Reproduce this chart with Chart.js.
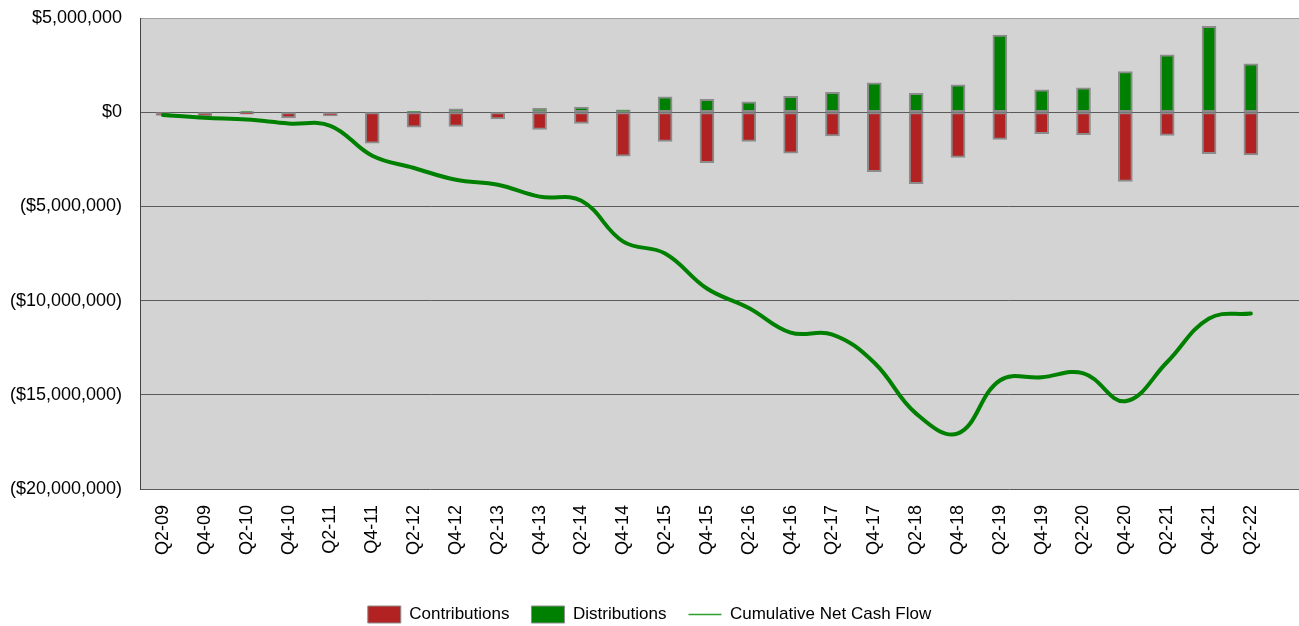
<!DOCTYPE html>
<html lang="en">
<head>
  <meta charset="UTF-8">
  <title>Cash Flow</title>
  <script src="https://cdn.jsdelivr.net/npm/chart.js"></script>
  <style>
    html, body { margin: 0; padding: 0; background: #fff; }
    #wrap { width: 1299px; height: 626px; position: relative; }
  </style>
</head>
<body>
  <div id="wrap"><canvas id="cashChart"></canvas></div>

  <script>
    const quarters = ['Q2-09', 'Q4-09', 'Q2-10', 'Q4-10', 'Q2-11', 'Q4-11', 'Q2-12', 'Q4-12', 'Q2-13',
      'Q4-13', 'Q2-14', 'Q4-14', 'Q2-15', 'Q4-15', 'Q2-16', 'Q4-16', 'Q2-17', 'Q4-17', 'Q2-18',
      'Q4-18', 'Q2-19', 'Q4-19', 'Q2-20', 'Q4-20', 'Q2-21', 'Q4-21', 'Q2-22'];
    const contributions = [-170000, -230000, -100000, -300000, -200000, -1650000, -800000, -760000, -360000,
      -920000, -600000, -2340000, -1550000, -2680000, -1550000, -2170000, -1260000, -3160000, -3800000,
      -2400000, -1440000, -1140000, -1190000, -3680000, -1230000, -2200000, -2270000];
    const distributions = [0, 0, 30000, 0, 0, 0, 50000, 180000, 0,
      200000, 270000, 120000, 820000, 680000, 550000, 840000, 1050000, 1560000, 1000000,
      1450000, 4100000, 1190000, 1300000, 2150000, 3050000, 4560000, 2570000];
    const cumulative = [-150000, -300000, -390000, -600000, -720000, -2310000, -2960000, -3590000, -3850000,
      -4480000, -4700000, -6870000, -7500000, -9360000, -10390000, -11700000, -11800000, -13300000, -16000000,
      -17050000, -14240000, -14070000, -13860000, -15340000, -13260000, -10950000, -10680000];

    const font = 'Liberation Sans, Arial, sans-serif';

    function money(v) {
      const s = '$' + Math.abs(v).toLocaleString('en-US');
      return v < 0 ? '(' + s + ')' : s;
    }

    const plotBg = {
      id: 'plotBg',
      beforeDraw(chart) {
        const a = chart.chartArea;
        const ctx = chart.ctx;
        ctx.save();
        ctx.fillStyle = '#d3d3d3';
        ctx.fillRect(a.left, a.top, a.right - a.left, a.bottom - a.top);
        ctx.restore();
      }
    };

    const pts = arr => arr.map((v, i) => ({ x: i, y: v }));

    const ctx = document.getElementById('cashChart').getContext('2d');
    const cashChart = new Chart(ctx, {
      type: 'bar',
      data: {
        datasets: [{
          label: 'Contributions',
          data: pts(contributions),
          backgroundColor: '#b22222',
          borderColor: '#8c8c8c',
          borderWidth: 2,
          borderSkipped: false,
          barThickness: 14,
          stack: 'flows',
          order: 2,
          pointStyle: 'rect'
        }, {
          label: 'Distributions',
          data: pts(distributions),
          backgroundColor: '#008000',
          borderColor: '#8c8c8c',
          borderWidth: 2,
          borderSkipped: false,
          barThickness: 14,
          stack: 'flows',
          order: 2,
          pointStyle: 'rect'
        }, {
          type: 'line',
          label: 'Cumulative Net Cash Flow',
          data: pts(cumulative),
          borderColor: '#008000',
          backgroundColor: '#008000',
          borderWidth: 4,
          borderCapStyle: 'round',
          tension: 0.4,
          pointRadius: 0,
          stack: 'cum',
          order: 1,
          pointStyle: 'line'
        }]
      },
      options: {
        responsive: true,
        maintainAspectRatio: false,
        animation: false,
        layout: { padding: { top: 18, right: 0, left: 0, bottom: -7 } },
        scales: {
          x: {
            type: 'linear',
            offset: false,
            min: -0.55,
            max: 27.15,
            grid: { display: false, drawTicks: false, offset: false },
            border: { display: false },
            afterBuildTicks: axis => { axis.ticks = quarters.map((q, i) => ({ value: i })); },
            afterFit: axis => { axis.height = 95; },
            ticks: {
              autoSkip: false,
              minRotation: 90,
              maxRotation: 90,
              padding: 16,
              color: '#000',
              font: { family: font, size: 18 },
              callback: v => quarters[v] ?? ''
            }
          },
          y: {
            stacked: true,
            min: -20000000,
            max: 5000000,
            afterFit: axis => {
              axis.width = 140;
              axis.paddingTop = 0;
              axis.paddingBottom = 0;
            },
            grid: {
              color: c => c.tick && c.tick.value === 5000000 ? '#a0a0a0' : '#5a5a5a',
              lineWidth: 1,
              drawTicks: false
            },
            border: { display: true, color: '#444', width: 1 },
            ticks: {
              stepSize: 5000000,
              padding: 18,
              color: '#000',
              font: { family: font, size: 18 },
              callback: v => money(v)
            }
          }
        },
        plugins: {
          tooltip: { enabled: false },
          legend: {
            display: true,
            position: 'bottom',
            labels: {
              usePointStyle: true,
              pointStyleWidth: 33,
              boxHeight: 19,
              padding: 22,
              color: '#000',
              font: { family: font, size: 17 },
              sort: (a, b) => a.datasetIndex - b.datasetIndex,
              generateLabels: chart => Chart.defaults.plugins.legend.labels.generateLabels(chart).map(item => {
                if (item.pointStyle === 'line') {
                  item.lineWidth = 1.5;
                  item.strokeStyle = '#2e9e2e';
                } else {
                  item.lineWidth = 1;
                  item.strokeStyle = '#8c8c8c';
                }
                return item;
              })
            }
          }
        }
      },
      plugins: [plotBg]
    });
  </script>
</body>
</html>
